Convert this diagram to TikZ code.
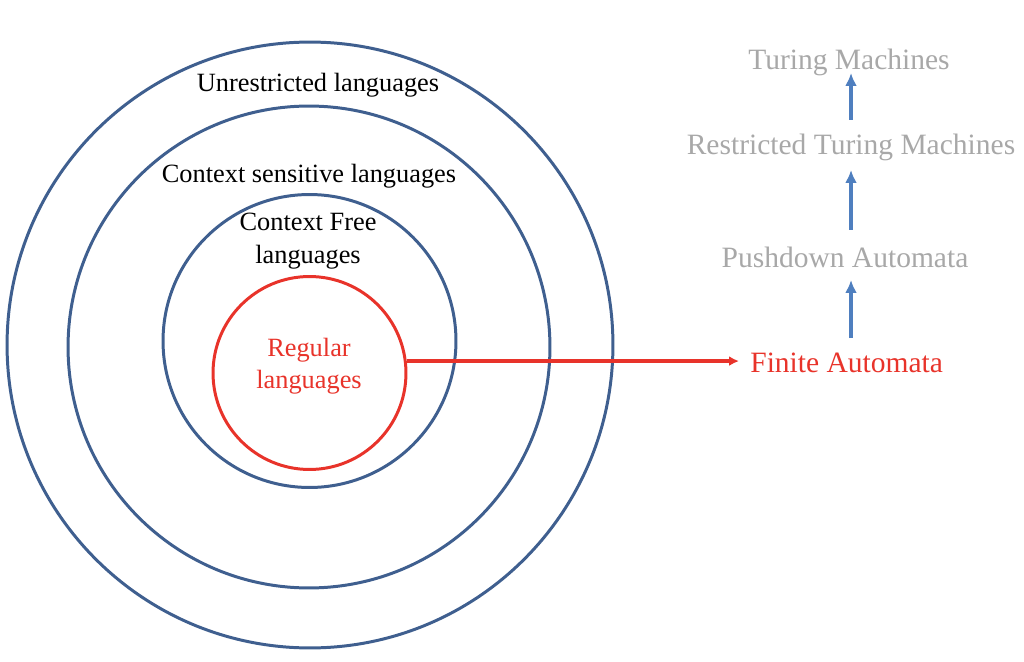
\documentclass[tikz,border=0pt]{standalone}
\usepackage{fontspec}
\setmainfont{Liberation Serif}
\usetikzlibrary{arrows.meta,positioning}
\definecolor{RingBlue}{HTML}{3F5F8F}
\definecolor{ArrBlue}{HTML}{4F7FBF}
\definecolor{RegRed}{HTML}{E8332A}
\definecolor{MachGray}{HTML}{A8A8A8}
\tikzset{
  ring/.style={circle, draw=RingBlue, line width=1.7pt, inner sep=0pt},
  regring/.style={circle, draw=RegRed, line width=1.7pt, inner sep=0pt},
  lang/.style={font=\fontsize{15}{18.5}\selectfont, align=center, inner sep=0pt},
  mach/.style={font=\fontsize{16.8}{20}\selectfont, text=MachGray, inner sep=0pt},
  up/.style={-{Latex[length=2.6mm,width=2.4mm]}, line width=2.2pt, draw=ArrBlue},
  maps/.style={-{Latex[length=2mm,width=2mm]}, line width=2.1pt, draw=RegRed}
}
\begin{document}
\begin{tikzpicture}[x=0.02cm,y=-0.02cm]
\useasboundingbox (0,0) rectangle (1024,662);
% nested classes
\node[ring,minimum size=12.12cm] (ur) at (310,345) {};
\node[ring,minimum size=9.64cm] (cs) at (309,347) {};
\node[ring,minimum size=5.86cm] (cf) at (309.5,341) {};
\node[regring,minimum size=3.86cm] (reg) at (309.5,373) {};
\node[lang] (urt) at (318,85) {Unrestricted languages};
\node[lang] (cst) at (309,176) {Context sensitive languages};
\node[lang] (cft) at (308,241) {Context Free\\languages};
\node[lang,text=RegRed] (regt) at (309,366) {Regular\\languages};
% machines
\node[mach,text=RegRed,anchor=west] (fa) at (750,363) {Finite Automata};
\node[mach] (pda) at (845,257) {Pushdown Automata};
\node[mach] (rtm) at (851,147) {Restricted Turing Machines};
\node[mach] (tm) at (849,62) {Turing Machines};
\coordinate (faup) at (851,338);
\coordinate (pdaup) at (851,230);
\coordinate (rtmup) at (851,120);
\draw[up] (faup) -- (faup |- 0,280);
\draw[up] (pdaup) -- (pdaup |- 0,170);
\draw[up] (rtmup) -- (rtmup |- 0,73);
\draw[maps, shorten >=0.22cm] (reg.7) -- (reg.7 -| fa.west);
\end{tikzpicture}
\end{document}
